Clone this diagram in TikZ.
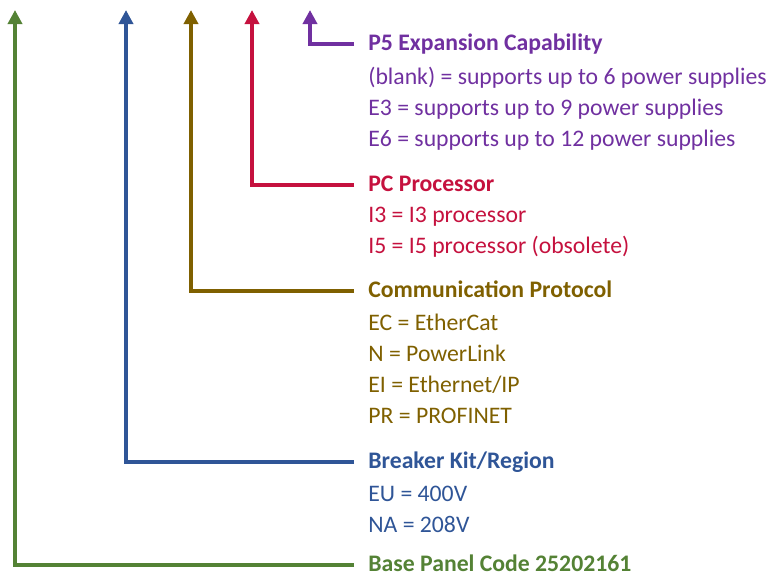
\documentclass[tikz,border=0pt]{standalone}
\usepackage{fontspec}
\setmainfont{Carlito}
\usetikzlibrary{calc,arrows.meta}
\definecolor{basegreen}{HTML}{548235}
\definecolor{kitblue}{HTML}{2F5597}
\definecolor{protolive}{HTML}{7F6000}
\definecolor{cpured}{HTML}{C5113E}
\definecolor{exppurple}{HTML}{7030A0}
\def\drawlead{\draw[line width=2.3pt, -{Triangle[width=0.28cm,length=0.28cm]}, shorten <=0.28cm]}
\def\headnode#1{\node[anchor=west, inner sep=0pt, text height=0.72em, text depth=0pt, text=#1, font=\fontsize{13.5}{16}\selectfont\bfseries]}
\def\itemnode#1{\node[anchor=west, inner sep=0pt, text height=0.72em, text depth=0pt, yshift=-1.2pt, text=#1, font=\fontsize{13.5}{16}\selectfont]}

\begin{document}
\begin{tikzpicture}[x=0.02cm,y=-0.02cm]
\useasboundingbox (0,0) rectangle (770,576);

% arrow tips along the top edge
\coordinate (greentip) at (15,10);
\coordinate (bluetip) at (126,10);
\coordinate (olivetip) at (191,10);
\coordinate (redtip) at (252,10);
\coordinate (purpletip) at (310,10);

% -------- P5 expansion ---------
\headnode{exppurple} (exphead) at (368,44) {P5 Expansion Capability};
\itemnode{exppurple} (expa) at (368,76) {(blank) = supports up to 6 power supplies};
\itemnode{exppurple} (expb) at (368,107) {E3 = supports up to 9 power supplies};
\itemnode{exppurple} (expc) at (368,138) {E6 = supports up to 12 power supplies};
\drawlead[exppurple] (exphead.west) -| (purpletip);

% -------- PC processor ---------
\headnode{cpured} (cpuhead) at (368,185) {PC Processor};
\itemnode{cpured} (cpua) at (368,214) {I3 = I3 processor};
\itemnode{cpured} (cpub) at (368,245) {I5 = I5 processor (obsolete)};
\drawlead[cpured] (cpuhead.west) -| (redtip);

% -------- communication protocol ---------
\headnode{protolive} (prothead) at (368,291) {Communication Protocol};
\itemnode{protolive} (prota) at (368,322) {EC = EtherCat};
\itemnode{protolive} (protb) at (368,353) {N = PowerLink};
\itemnode{protolive} (protc) at (368,384) {EI = Ethernet/IP};
\itemnode{protolive} (protd) at (368,415) {PR = PROFINET};
\drawlead[protolive] (prothead.west) -| (olivetip);

% -------- breaker kit ---------
\headnode{kitblue} (kithead) at (368,462) {Breaker Kit/Region};
\itemnode{kitblue} (kita) at (368,493) {EU = 400V};
\itemnode{kitblue} (kitb) at (368,524) {NA = 208V};
\drawlead[kitblue] (kithead.west) -| (bluetip);

% -------- base panel ---------
\headnode{basegreen} (basehead) at (368,565) {Base Panel Code 25202161};
\drawlead[basegreen] (basehead.west) -| (greentip);
\end{tikzpicture}
\end{document}
